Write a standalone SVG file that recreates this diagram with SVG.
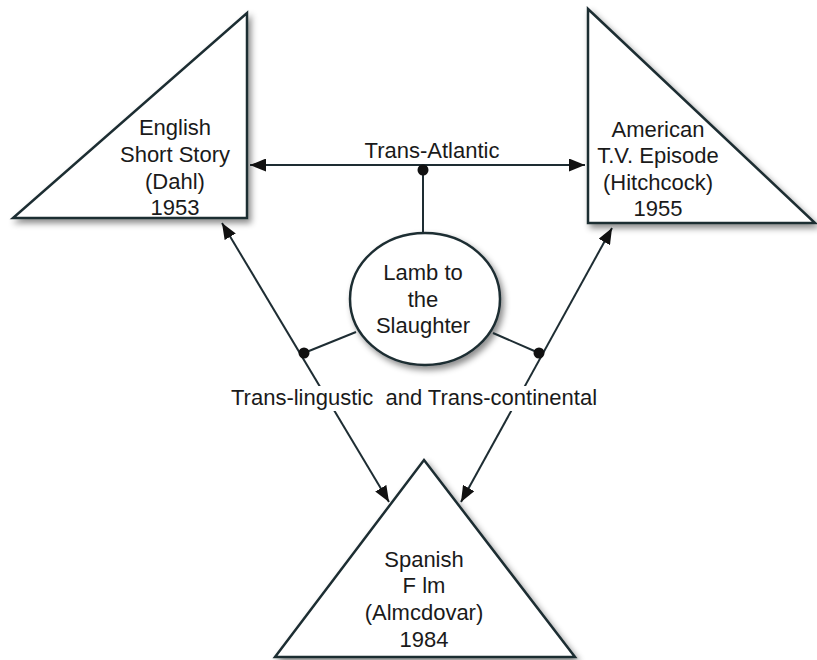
<svg xmlns="http://www.w3.org/2000/svg" width="817" height="660" viewBox="0 0 817 660">
<style>
.shape{fill:#ffffff;stroke:#1e2d33;stroke-width:2.5;stroke-linejoin:miter;filter:url(#sh)}
.conn{fill:none;stroke:#1e2d33;stroke-width:2}
.lbl{font-family:"Liberation Sans",Arial,sans-serif;font-size:22px;fill:#1a1a1a;text-anchor:middle}
.dot{fill:#111111}
</style>
<defs>
<filter id="sh" x="-10%" y="-10%" width="125%" height="130%">
<feDropShadow dx="3" dy="4" stdDeviation="3" flood-color="#000000" flood-opacity="0.45"/>
</filter>
<marker id="arr" markerUnits="userSpaceOnUse" markerWidth="17" markerHeight="13" refX="16" refY="6.5" orient="auto-start-reverse">
<path d="M0,0 L16,6.5 L0,13 z" fill="#111111"/>
</marker>
</defs>
<rect width="817" height="660" fill="#ffffff"/>

<g id="english">
<polygon class="shape" points="247,13 247,218 13,218"/>
<text class="lbl" x="175" y="135">English</text>
<text class="lbl" x="175" y="162">Short Story</text>
<text class="lbl" x="175" y="189">(Dahl)</text>
<text class="lbl" x="175" y="215">1953</text>
</g>

<g id="american">
<polygon class="shape" points="588,9 815,223 588,223"/>
<text class="lbl" x="658" y="137">American</text>
<text class="lbl" x="658" y="163">T.V. Episode</text>
<text class="lbl" x="658" y="190">(Hitchcock)</text>
<text class="lbl" x="658" y="216">1955</text>
</g>

<g id="spanish">
<polygon class="shape" points="424,460 575,657 275,657"/>
<text class="lbl" x="424" y="567">Spanish</text>
<text class="lbl" x="424" y="593">F lm</text>
<text class="lbl" x="424" y="620">(Almcdovar)</text>
<text class="lbl" x="424" y="647">1984</text>
</g>

<g id="lamb">
<ellipse class="shape" cx="425" cy="299" rx="75" ry="66"/>
<text class="lbl" x="423" y="280">Lamb to</text>
<text class="lbl" x="423" y="307">the</text>
<text class="lbl" x="423" y="333">Slaughter</text>
</g>

<g id="connectors">
<line class="conn" x1="250" y1="165" x2="585" y2="165" marker-start="url(#arr)" marker-end="url(#arr)"/>
<line class="conn" x1="423" y1="170" x2="423" y2="233"/>
<circle class="dot" cx="423" cy="170" r="5.5"/>
<line class="conn" x1="222" y1="223" x2="389" y2="502" marker-start="url(#arr)" marker-end="url(#arr)"/>
<line class="conn" x1="612" y1="228" x2="461" y2="502" marker-start="url(#arr)" marker-end="url(#arr)"/>
<line class="conn" x1="356" y1="332" x2="304" y2="353"/>
<circle class="dot" cx="304" cy="353" r="5.5"/>
<line class="conn" x1="493" y1="333" x2="539" y2="353"/>
<circle class="dot" cx="539" cy="353" r="5.5"/>
<text class="lbl" x="432" y="158">Trans-Atlantic</text>
<rect x="226" y="386" width="378" height="25" fill="#ffffff"/>
<text class="lbl" x="414" y="405" style="white-space:pre" xml:space="preserve">Trans-lingustic  and Trans-continental</text>
</g>
</svg>
